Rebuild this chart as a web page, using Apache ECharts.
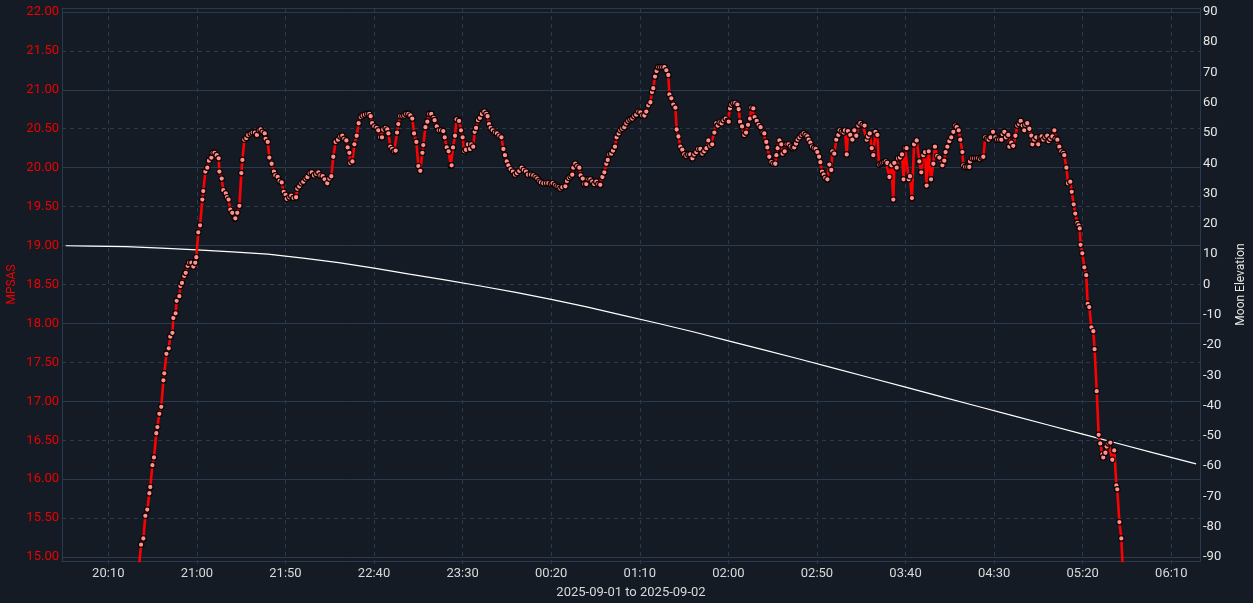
<!DOCTYPE html>
<html>
<head>
<meta charset="utf-8">
<script src="https://cdn.jsdelivr.net/npm/echarts@6/dist/echarts.min.js"></script>
<style>
html,body{margin:0;padding:0;background:#141b24;}
#chart{width:1253px;height:603px;}
</style>
</head>
<body>
<div id="chart"></div>
<script>
// Time values are minutes after 2025-09-01 20:10
const timeTicks = [0, 50, 100, 150, 200, 250, 300, 350, 400, 450, 500, 550, 600];
const timeTickLabels = ['20:10','21:00','21:50','22:40','23:30','00:20','01:10','02:00','02:50','03:40','04:30','05:20','06:10'];
const mpsasTicks = [15, 15.5, 16, 16.5, 17, 17.5, 18, 18.5, 19, 19.5, 20, 20.5, 21, 21.5, 22];
const moonTicks = [-90, -80, -70, -60, -50, -40, -30, -20, -10, 0, 10, 20, 30, 40, 50, 60, 70, 80, 90];

const mpsasTime = [
16.4,17.4,18.5,19.8,20.9,22.0,23.2,23.7,24.9,25.8,27.1,27.7,28.8,29.9,31.1,31.6,32.8,34.1,35.0,36.2,
36.7,38.0,38.6,40.1,40.7,41.6,42.9,43.7,44.8,45.7,46.9,48.0,49.1,49.7,50.8,51.8,53.1,53.6,54.8,55.9,
56.8,58.2,58.9,60.0,61.2,62.3,62.7,64.0,64.9,66.3,67.0,67.9,68.9,70.0,71.3,71.7,72.8,74.0,75.1,75.7,
76.8,77.9,79.0,80.4,81.5,82.8,83.9,85.1,86.0,87.1,88.3,88.8,90.0,90.9,92.2,93.5,94.3,95.6,96.7,97.9,
99.0,100.1,100.7,102.2,103.3,104.6,106.0,106.7,107.8,109.0,110.1,111.4,112.4,113.7,114.8,116.1,117.4,118.6,119.7,121.0,
122.1,123.6,124.8,125.9,127.0,128.3,129.7,131.0,132.1,133.2,134.4,135.1,136.1,136.6,137.8,138.9,140.2,141.3,142.5,143.6,
144.9,146.2,147.3,148.1,148.9,150.2,151.5,152.4,153.4,154.5,155.2,156.6,157.5,158.1,159.2,160.3,161.3,162.2,163.0,163.7,
164.8,166.0,167.1,168.2,169.4,170.5,171.6,172.6,173.9,175.0,176.1,177.3,177.8,179.0,180.1,181.2,182.3,183.7,184.2,185.4,
186.5,187.8,189.1,189.9,191.0,192.1,193.3,193.8,194.6,195.7,196.6,198.0,199.1,200.0,201.0,201.9,203.0,204.2,204.9,206.0,
206.8,207.6,208.7,209.8,210.9,212.3,213.4,214.1,214.9,215.8,217.0,218.3,219.4,220.7,221.9,223.0,223.9,224.9,225.8,227.1,
228.4,229.6,230.7,232.0,233.3,234.5,235.8,236.9,238.6,239.9,241.2,242.2,243.3,244.2,245.6,247.1,248.4,249.9,250.8,252.1,
253.1,254.2,255.2,256.3,258.0,258.9,259.9,261.0,261.9,262.5,263.6,264.7,265.9,266.6,267.8,268.7,269.8,271.0,272.1,273.2,
274.3,275.5,276.6,277.7,278.9,280.0,281.1,281.9,282.8,283.9,284.9,286.0,286.9,288.1,289.0,290.1,291.3,292.4,293.5,294.7,
295.8,296.9,298.0,299.2,300.3,301.4,302.6,303.7,304.8,306.0,306.9,307.6,308.6,309.5,310.5,311.6,312.7,313.9,315.0,316.1,
316.7,317.8,318.9,320.1,320.8,321.8,322.9,324.0,325.1,326.3,327.4,328.5,329.7,330.8,331.9,333.0,334.2,335.3,336.4,337.6,
338.7,339.8,340.9,342.1,343.2,344.0,345.1,346.2,347.3,348.5,349.6,350.2,350.9,351.7,352.8,353.9,355.1,355.8,356.6,357.7,
359.0,360.0,361.1,362.2,363.0,364.1,364.8,366.0,367.1,368.2,369.4,370.3,371.4,372.0,373.1,374.3,375.4,376.5,377.1,377.8,
378.8,379.9,380.6,381.8,382.9,384.0,385.2,386.3,387.2,388.2,389.1,390.2,391.4,392.5,393.6,394.6,395.3,396.3,397.2,398.3,
399.3,400.2,401.2,401.9,402.9,403.8,404.7,405.9,407.0,408.1,408.7,409.8,410.9,412.1,412.8,414.0,415.1,415.8,416.8,417.5,
418.8,420.0,421.1,422.2,423.4,424.5,425.8,426.9,428.1,428.8,429.8,430.9,431.8,433.0,434.1,435.0,436.0,436.9,437.8,438.8,
439.7,440.9,442.0,443.1,443.7,445.0,445.7,446.9,448.0,448.9,449.7,450.6,451.8,452.5,453.6,454.8,456.3,457.8,458.9,460.0,
461.0,461.9,463.1,464.4,465.7,466.6,467.9,469.1,470.8,471.9,472.6,473.6,474.7,475.8,477.0,478.1,478.9,480.0,480.9,482.1,
482.6,483.7,484.9,486.0,486.4,487.5,488.6,489.8,490.9,492.0,493.0,493.9,495.0,496.0,496.9,498.0,499.4,500.7,501.8,502.9,
504.1,504.8,505.8,506.7,508.0,508.6,509.7,510.8,512.0,513.1,514.2,515.0,516.1,517.0,517.6,518.7,519.9,521.0,521.6,522.7,
523.8,524.9,526.1,526.8,527.8,528.9,530.0,530.8,531.7,532.9,534.0,534.7,535.7,536.8,537.9,539.1,539.6,540.8,541.7,543.0,
543.8,544.9,545.8,547.0,547.7,548.3,548.8,549.8,550.9,552.0,552.8,553.7,554.9,556.0,556.7,557.9,559.0,559.9,561.1,561.6,
562.8,563.5,564.6,565.6,566.7,567.8,569.0,569.5,570.7,571.8,572.9
];
const mpsasValue = [
14.55,14.89,15.16,15.24,15.53,15.61,15.82,15.90,16.18,16.28,16.59,16.67,16.84,16.93,17.27,17.36,17.61,17.68,17.83,17.88,
18.07,18.13,18.29,18.35,18.48,18.52,18.61,18.65,18.74,18.78,18.78,18.73,18.78,18.85,19.17,19.26,19.59,19.70,19.95,20.00,
20.09,20.13,20.19,20.19,20.16,20.12,19.95,19.86,19.71,19.67,19.62,19.59,19.46,19.42,19.35,19.35,19.42,19.51,19.93,20.10,
20.36,20.38,20.42,20.44,20.45,20.45,20.42,20.48,20.49,20.46,20.44,20.37,20.33,20.13,20.05,19.95,19.90,19.88,19.83,19.81,
19.69,19.65,19.60,19.62,19.64,19.61,19.62,19.73,19.76,19.80,19.82,19.86,19.88,19.93,19.94,19.90,19.92,19.94,19.90,19.89,
19.85,19.80,19.86,19.89,20.14,20.33,20.36,20.40,20.41,20.37,20.35,20.26,20.19,20.06,20.08,20.30,20.41,20.57,20.65,20.67,
20.68,20.69,20.69,20.66,20.57,20.53,20.51,20.48,20.39,20.39,20.49,20.51,20.49,20.44,20.27,20.24,20.21,20.22,20.45,20.56,
20.66,20.66,20.67,20.69,20.69,20.67,20.63,20.44,20.33,20.02,19.96,20.19,20.29,20.52,20.59,20.69,20.69,20.64,20.61,20.53,
20.48,20.48,20.47,20.39,20.26,20.21,20.03,20.03,20.26,20.41,20.62,20.60,20.48,20.39,20.21,20.23,20.30,20.24,20.30,20.27,
20.46,20.51,20.61,20.64,20.69,20.72,20.69,20.66,20.56,20.51,20.48,20.45,20.44,20.41,20.39,20.24,20.16,20.08,20.03,19.98,
19.95,19.91,19.93,19.96,20.00,19.97,19.95,19.91,19.91,19.90,19.88,19.86,19.83,19.81,19.80,19.80,19.80,19.79,19.80,19.78,
19.76,19.75,19.73,19.75,19.76,19.83,19.87,19.89,19.91,20.00,20.05,20.02,20.00,19.90,19.86,19.79,19.79,19.85,19.85,19.82,
19.79,19.82,19.79,19.78,19.88,19.94,20.05,20.10,20.17,20.18,20.22,20.27,20.39,20.44,20.48,20.50,20.52,20.57,20.60,20.62,
20.63,20.66,20.68,20.72,20.71,20.67,20.67,20.72,20.80,20.84,20.97,21.02,21.17,21.24,21.29,21.29,21.29,21.29,21.25,21.19,
20.94,20.89,20.81,20.77,20.49,20.40,20.27,20.23,20.17,20.15,20.17,20.17,20.12,20.17,20.20,20.24,20.24,20.18,20.21,20.25,
20.35,20.28,20.30,20.45,20.57,20.54,20.58,20.57,20.61,20.63,20.60,20.59,20.76,20.81,20.83,20.83,20.81,20.75,20.59,20.53,
20.42,20.45,20.55,20.63,20.77,20.76,20.65,20.60,20.55,20.52,20.45,20.44,20.33,20.26,20.14,20.07,20.05,20.05,20.16,20.25,
20.35,20.30,20.18,20.21,20.30,20.30,20.27,20.25,20.26,20.31,20.36,20.39,20.42,20.44,20.42,20.40,20.36,20.32,20.27,20.25,
20.24,20.20,20.14,20.07,19.95,19.91,19.87,19.85,20.04,19.97,20.21,20.18,20.36,20.42,20.48,20.46,20.45,20.48,20.17,20.47,
20.42,20.36,20.48,20.41,20.54,20.57,20.55,20.54,20.36,20.40,20.44,20.25,20.16,20.46,20.42,20.04,20.05,20.06,20.07,20.08,
20.06,19.88,20.03,19.59,20.06,20.00,20.12,20.13,20.17,19.85,20.25,20.25,19.85,19.89,19.61,20.30,20.35,20.08,19.94,20.16,
20.20,19.77,20.21,19.85,20.05,20.27,20.15,20.13,20.03,20.09,20.20,20.27,20.34,20.39,20.46,20.54,20.52,20.48,20.36,20.20,
20.03,20.01,20.01,20.01,20.08,20.12,20.12,20.12,20.12,20.11,20.13,20.14,20.39,20.37,20.36,20.39,20.46,20.39,20.36,20.36,
20.36,20.43,20.46,20.39,20.42,20.27,20.32,20.28,20.41,20.54,20.56,20.60,20.54,20.48,20.55,20.57,20.50,20.41,20.30,20.36,
20.39,20.30,20.39,20.40,20.36,20.39,20.41,20.34,20.37,20.40,20.48,20.37,20.36,20.27,20.21,20.19,20.16,20.00,19.80,19.82,
19.69,19.53,19.41,19.29,19.26,19.22,19.01,18.90,18.72,18.62,18.25,18.21,17.95,17.90,17.67,17.13,16.57,16.46,16.32,16.28,
16.34,16.42,16.46,16.47,16.25,16.37,15.92,15.87,15.45,15.24,14.70
];

const moonTime = [-24, -10, 10, 30, 50, 70, 90, 110, 130, 150, 170, 190, 210, 230, 250, 270, 290, 310, 330, 350, 370, 390, 410, 430, 450, 470, 490, 510, 530, 550, 570, 590, 614];
const moonValue = [12.8, 12.7, 12.5, 12.0, 11.4, 10.8, 10.0, 8.7, 7.2, 5.4, 3.4, 1.5, -0.5, -2.6, -4.9, -7.4, -10.1, -12.8, -15.6, -18.6, -21.6, -24.6, -27.7, -30.8, -33.9, -37.0, -40.1, -43.2, -46.3, -49.4, -52.5, -55.6, -59.2];

const GRID = '#293a4e';
const FONT = 'Roboto';
const mpsasMajor = mpsasTicks.filter(v => Number.isInteger(v));
const mpsasMinor = mpsasTicks.filter(v => !Number.isInteger(v));

const chart = echarts.init(document.getElementById('chart'), null, {renderer: 'canvas'});
chart.setOption({
  backgroundColor: '#141b24',
  animation: false,
  textStyle: {fontFamily: FONT},
  grid: {left: 62, right: 53, top: 8, bottom: 42, containLabel: false, outerBoundsMode: 'none'},
  xAxis: [{
    type: 'value', position: 'bottom', min: -26.13, max: 616.2,
    name: '2025-09-01 to 2025-09-02', nameLocation: 'middle', nameGap: 25,
    nameTextStyle: {color: '#d9d9d9', fontSize: 13, fontFamily: FONT},
    axisLine: {show: true, onZero: false, lineStyle: {color: GRID, width: 1}},
    axisTick: {show: true, length: 3, customValues: timeTicks, lineStyle: {color: GRID}},
    axisLabel: {customValues: timeTicks, color: '#d9d9d9', fontSize: 13, margin: 6, fontFamily: FONT,
      formatter: v => timeTickLabels[timeTicks.indexOf(v)] || ''},
    splitLine: {show: true, lineStyle: {color: GRID, type: [4, 4], width: 1}}
  }, {
    type: 'value', position: 'top', min: -26.13, max: 616.2,
    axisLine: {show: true, onZero: false, lineStyle: {color: GRID, width: 1}},
    axisTick: {show: false}, axisLabel: {show: false}, splitLine: {show: false}
  }],
  yAxis: [{
    type: 'value', position: 'left', min: 14.95, max: 22.05,
    name: 'MPSAS', nameLocation: 'middle', nameGap: 44, nameRotate: 90, nameMoveOverlap: false,
    nameTextStyle: {color: '#ee0000', fontSize: 12, fontFamily: FONT},
    axisLine: {show: true, onZero: false, lineStyle: {color: GRID, width: 1}},
    axisTick: {show: false, customValues: mpsasMajor},
    axisLabel: {customValues: mpsasTicks, color: '#ee0000', fontSize: 13, margin: 3, fontFamily: FONT,
      formatter: v => v.toFixed(2)},
    splitLine: {show: true, lineStyle: {color: GRID, width: 1}}
  }, {
    type: 'value', position: 'right', min: -91.286, max: 91.286,
    name: 'Moon Elevation', nameLocation: 'middle', nameGap: 35, nameRotate: 90,
    nameTextStyle: {color: '#e6e6e6', fontSize: 12, fontFamily: FONT},
    axisLine: {show: true, onZero: false, lineStyle: {color: GRID, width: 1}},
    axisTick: {show: false, customValues: moonTicks},
    axisLabel: {customValues: moonTicks, color: '#e6e6e6', fontSize: 13, margin: 3, fontFamily: FONT},
    splitLine: {show: false}
  }, {
    type: 'value', position: 'left', min: 14.95, max: 22.05,
    axisLine: {show: false, onZero: false}, axisLabel: {show: false},
    axisTick: {show: false, customValues: mpsasMinor},
    splitLine: {show: true, lineStyle: {color: GRID, type: [4, 4], width: 1}}
  }],
  series: [{
    type: 'line', name: 'Moon Elevation', xAxisIndex: 0, yAxisIndex: 1,
    data: moonTime.map((t, i) => [t, moonValue[i]]),
    showSymbol: false, smooth: false,
    lineStyle: {color: '#ffffff', width: 1.2}, itemStyle: {color: '#ffffff'}, z: 2
  }, {
    type: 'line', name: 'MPSAS', xAxisIndex: 0, yAxisIndex: 0,
    data: mpsasTime.map((t, i) => [t, mpsasValue[i]]),
    showSymbol: true, showAllSymbol: true, symbol: 'circle', symbolSize: 5.5, clip: true,
    lineStyle: {color: '#ff0000', width: 2.6},
    itemStyle: {color: '#ff9090', borderColor: '#120000', borderWidth: 1.2}, z: 3
  }]
});
</script>
</body>
</html>
